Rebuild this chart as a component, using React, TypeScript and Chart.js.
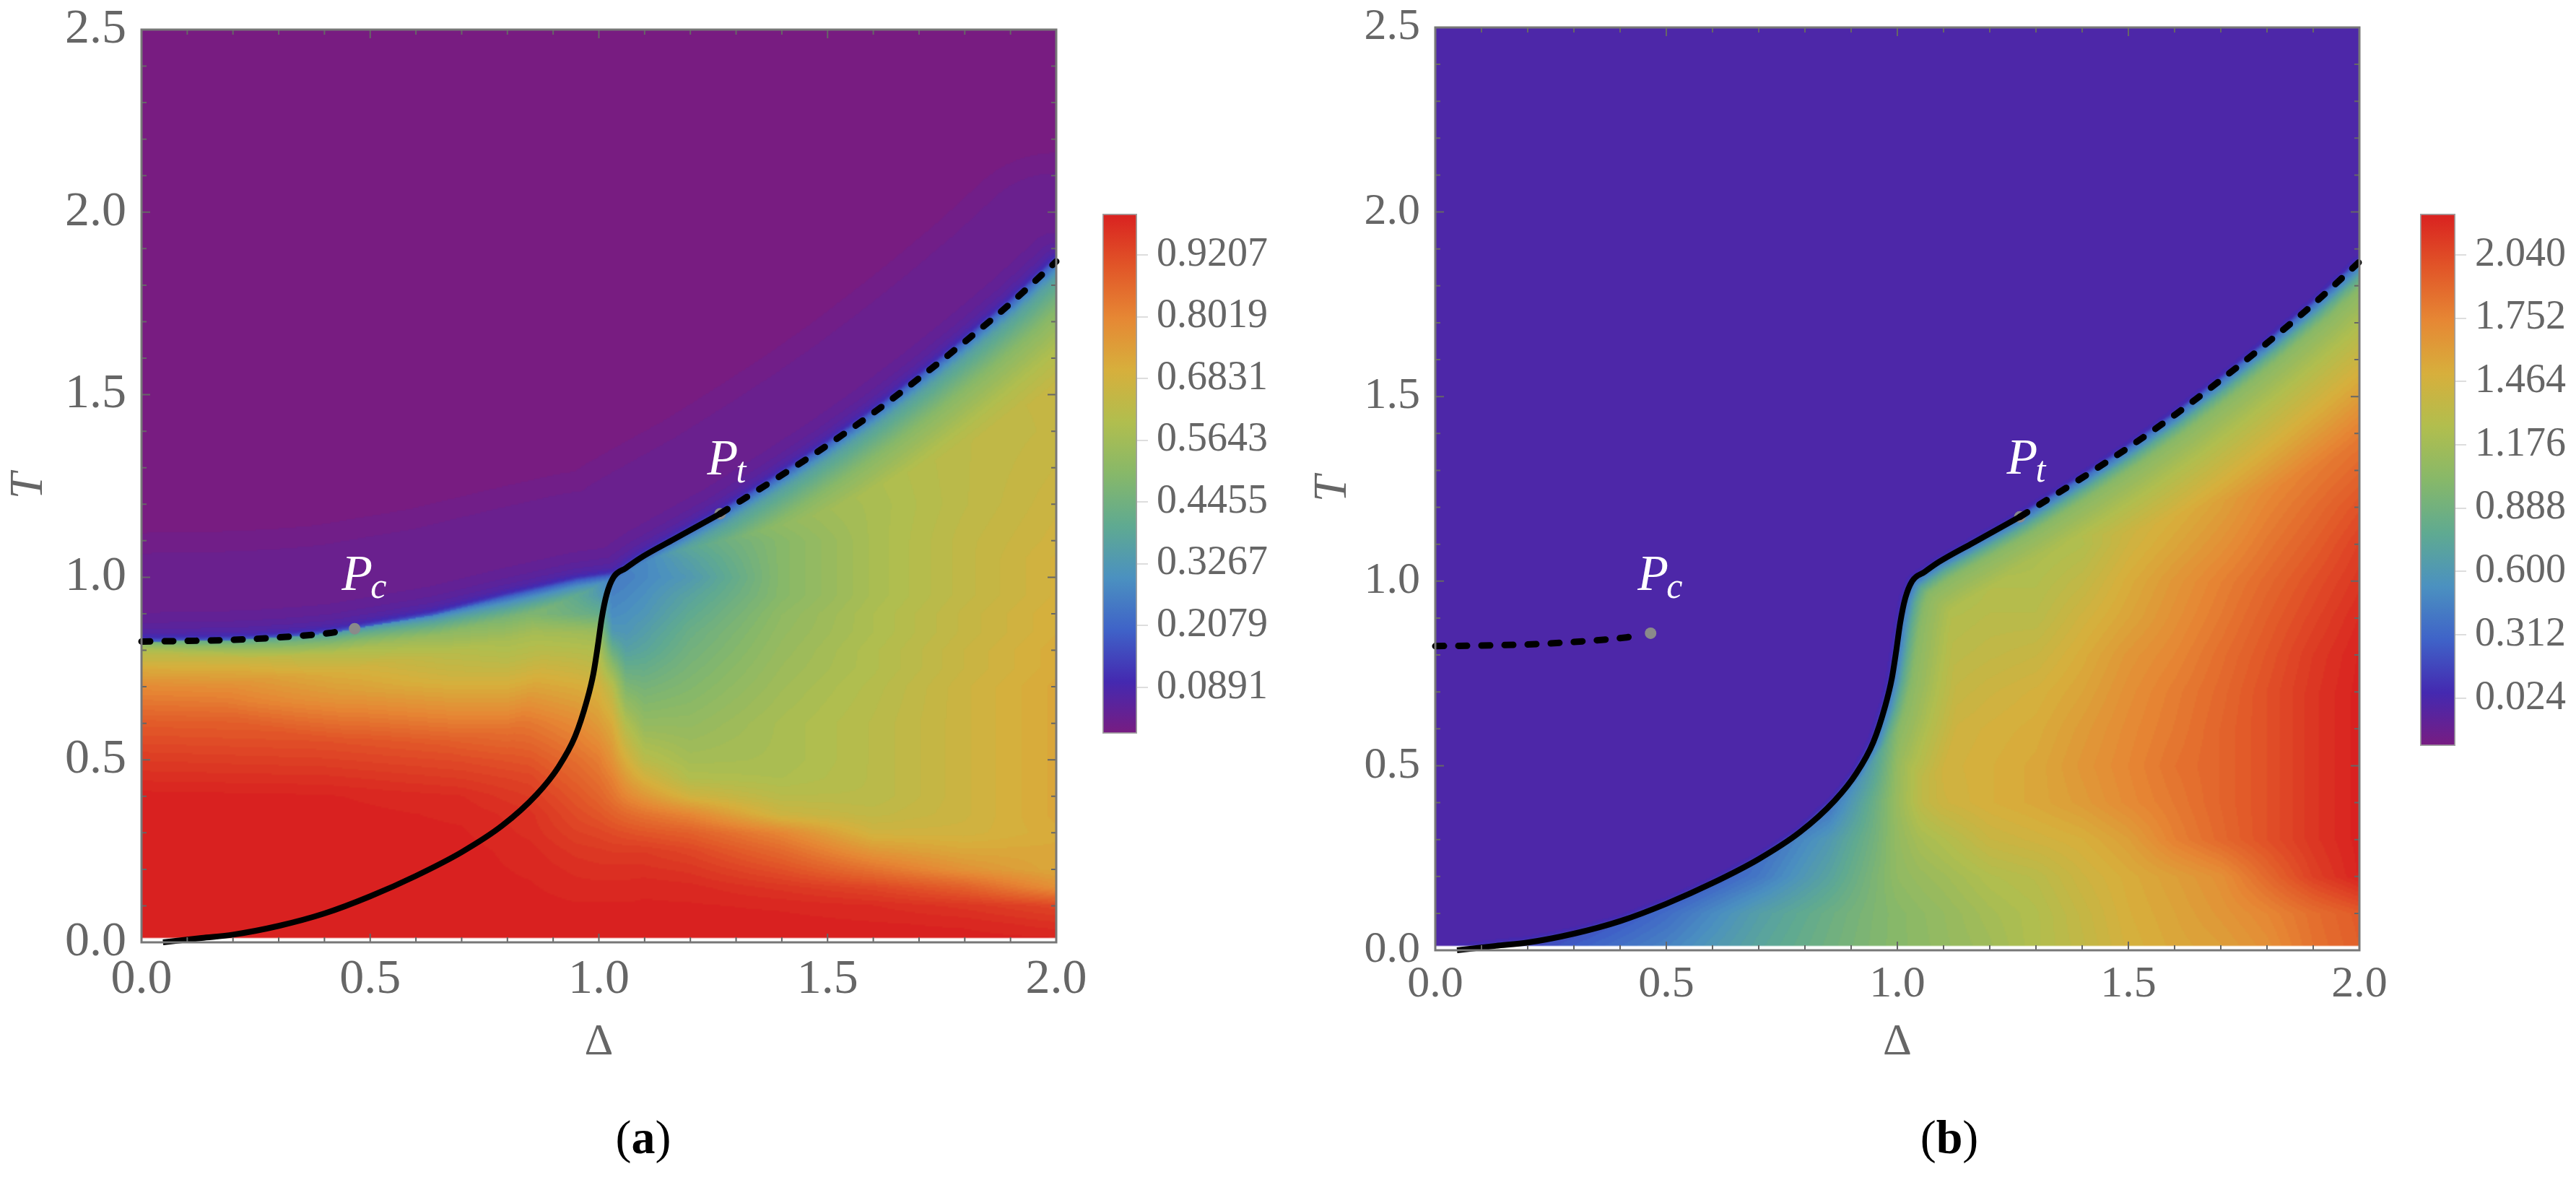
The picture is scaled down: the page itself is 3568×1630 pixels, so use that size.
import React, { useEffect, useRef } from 'react';
import Chart from 'chart.js/auto';

const SERIF = '"Liberation Serif", "Times New Roman", serif';
const GREY = '#666666';

// rainbow colour stops, bottom to top of the colour bar
const rainbowStops = ['#781c81', '#4429b0', '#3f63c8', '#4b91c0', '#5faa91', '#87b869', '#b1be4e', '#d7af3c', '#e68734', '#e15528', '#d92120'];

// curves (same in both panels)
const solidDelta = [0.047, 0.131, 0.2, 0.3, 0.4, 0.5, 0.6, 0.7, 0.789, 0.864, 0.911, 0.948, 0.974, 0.988, 0.998, 1.006, 1.017, 1.032, 1.059, 1.09, 1.164, 1.265];
const solidT = [0, 0.012, 0.021, 0.045, 0.079, 0.126, 0.182, 0.247, 0.32, 0.405, 0.479, 0.564, 0.663, 0.736, 0.815, 0.886, 0.953, 1.0, 1.025, 1.052, 1.104, 1.174];
const dashRightDelta = [1.265, 1.4, 1.5, 1.6, 1.7, 1.8, 1.9, 2.0];
const dashRightT = [1.174, 1.28, 1.362, 1.45, 1.545, 1.645, 1.75, 1.865];
const dashLeftDelta = [0, 0.12, 0.23, 0.33, 0.41, 0.44];
const dashLeftT = [0.824, 0.826, 0.83, 0.838, 0.847, 0.853];
const edgeDelta = [0.466, 0.638, 0.796, 0.953, 1.037];
const edgeT = [0.859, 0.896, 0.945, 0.99, 1.005];

const pointDelta = [0.466, 1.265];
const pointT = [0.859, 1.174];
const pointNames = ['c', 't'];

// panel (a): field below the transition line
const colDeltaA = [0, 0.4, 0.7, 0.85, 0.95, 1.0, 1.03, 1.06, 1.1, 1.2, 1.4, 1.6, 1.8, 2.0];
const rowTA = [0.01, 0.05, 0.1, 0.15, 0.2, 0.25, 0.3, 0.35, 0.4, 0.45, 0.5, 0.6, 0.7, 0.75, 0.8, 0.85, 0.9, 0.95, 1.0, 1.05, 1.1, 1.2, 1.4, 1.6, 1.8, 1.9];
const fieldA = [
  [1, 1, 1, 1, 1, 1, 1, 1, 1, 1, 1, 1, 1, 0.995],
  [1, 1, 1, 1, 1, 1, 1, 1, 1, 1, 1, 0.995, 0.99, 0.97],
  [1, 1, 1, 1, 0.995, 0.995, 0.995, 0.995, 0.995, 0.995, 0.99, 0.98, 0.96, 0.93],
  [1, 1, 1, 0.995, 0.985, 0.985, 0.985, 0.985, 0.99, 0.985, 0.96, 0.93, 0.88, 0.78],
  [1, 1, 1, 0.99, 0.975, 0.97, 0.97, 0.97, 0.97, 0.96, 0.91, 0.84, 0.77, 0.72],
  [1, 1, 1, 0.985, 0.96, 0.955, 0.95, 0.95, 0.95, 0.93, 0.86, 0.76, 0.72, 0.72],
  [1, 1, 0.995, 0.975, 0.94, 0.93, 0.92, 0.91, 0.9, 0.88, 0.8, 0.68, 0.68, 0.71],
  [1, 1, 0.99, 0.97, 0.92, 0.9, 0.88, 0.86, 0.84, 0.8, 0.67, 0.64, 0.67, 0.72],
  [1, 0.995, 0.98, 0.95, 0.9, 0.87, 0.84, 0.8, 0.76, 0.68, 0.62, 0.62, 0.67, 0.72],
  [0.975, 0.97, 0.95, 0.93, 0.875, 0.845, 0.81, 0.75, 0.69, 0.6, 0.59, 0.62, 0.67, 0.72],
  [0.95, 0.94, 0.92, 0.9, 0.85, 0.82, 0.77, 0.7, 0.62, 0.57, 0.58, 0.62, 0.67, 0.72],
  [0.89, 0.88, 0.85, 0.83, 0.79, 0.75, 0.71, 0.6, 0.53, 0.53, 0.58, 0.62, 0.67, 0.72],
  [0.79, 0.77, 0.75, 0.73, 0.71, 0.69, 0.62, 0.48, 0.46, 0.49, 0.56, 0.61, 0.67, 0.72],
  [0.71, 0.7, 0.69, 0.68, 0.66, 0.64, 0.53, 0.42, 0.42, 0.47, 0.55, 0.6, 0.66, 0.71],
  [0.6, 0.6, 0.63, 0.62, 0.61, 0.6, 0.43, 0.36, 0.38, 0.45, 0.54, 0.6, 0.66, 0.71],
  [0.6, 0.6, 0.58, 0.57, 0.56, 0.55, 0.33, 0.32, 0.35, 0.43, 0.53, 0.59, 0.65, 0.7],
  [0.6, 0.6, 0.55, 0.48, 0.44, 0.42, 0.29, 0.3, 0.32, 0.4, 0.52, 0.59, 0.65, 0.7],
  [0.6, 0.6, 0.55, 0.5, 0.4, 0.34, 0.27, 0.28, 0.3, 0.37, 0.5, 0.58, 0.64, 0.69],
  [0.6, 0.6, 0.6, 0.6, 0.5, 0.3, 0.25, 0.26, 0.28, 0.33, 0.5, 0.58, 0.64, 0.69],
  [0.6, 0.6, 0.6, 0.6, 0.5, 0.35, 0.3, 0.28, 0.28, 0.36, 0.5, 0.58, 0.64, 0.69],
  [0.6, 0.6, 0.6, 0.6, 0.5, 0.5, 0.5, 0.4, 0.34, 0.4, 0.5, 0.58, 0.64, 0.68],
  [0.6, 0.6, 0.6, 0.6, 0.6, 0.6, 0.6, 0.6, 0.55, 0.55, 0.55, 0.58, 0.63, 0.67],
  [0.6, 0.6, 0.6, 0.6, 0.6, 0.6, 0.6, 0.6, 0.6, 0.6, 0.6, 0.6, 0.63, 0.65],
  [0.6, 0.6, 0.6, 0.6, 0.6, 0.6, 0.6, 0.6, 0.6, 0.6, 0.6, 0.6, 0.65, 0.65],
  [0.6, 0.6, 0.6, 0.6, 0.6, 0.6, 0.6, 0.6, 0.6, 0.6, 0.6, 0.6, 0.65, 0.65],
  [0.6, 0.6, 0.6, 0.6, 0.6, 0.6, 0.6, 0.6, 0.6, 0.6, 0.6, 0.6, 0.65, 0.65],
];
// value against distance below the transition line, left and right of the solid curve
const profileDepthLeftA = [0, 0.006, 0.013, 0.022, 0.044, 0.07, 0.1, 0.14, 0.18, 0.22, 0.3];
const profileValueLeftA = [0.2, 0.3, 0.38, 0.47, 0.57, 0.63, 0.72, 0.84, 0.92, 0.98, 1];
const profileDepthA = [0, 0.006, 0.013, 0.03, 0.04, 0.073, 0.105, 0.14, 0.3];
const profileValueA = [0.2, 0.28, 0.36, 0.45, 0.5, 0.6, 0.66, 0.7, 1];
const liftDeltaA = [0, 0.47, 0.8, 2];
const liftValueA = [0.25, 0.12, 0, 0];
const upperDepthA = [0, 0.004, 0.008, 0.016, 0.03, 0.09, 0.13];
const upperValueA = [0.2, 0.11, 0.08, 0.055, 0.035, 0.025, 0];
const barTicksA = [0.0891, 0.2079, 0.3267, 0.4455, 0.5643, 0.6831, 0.8019, 0.9207];

// panel (b)
const colDeltaB = [0.1, 0.3, 0.5, 0.7, 0.85, 0.95, 1.0, 1.05, 1.1, 1.2, 1.3, 1.4, 1.5, 1.6, 1.7, 1.8, 1.9, 2.0];
const rowTB = [0.01, 0.1, 0.2, 0.3, 0.4, 0.5, 0.6, 0.7, 0.8, 0.9, 1.0, 1.1, 1.2, 1.4, 1.6, 1.8, 1.9];
const fieldB = [
  [0.05, 0.27, 0.46, 0.72, 0.88, 0.98, 1.02, 1.05, 1.09, 1.16, 1.26, 1.36, 1.48, 1.55, 1.6, 1.69, 1.84, 1.94],
  [0.05, 0.1, 0.34, 0.66, 0.85, 0.97, 1.02, 1.06, 1.1, 1.19, 1.26, 1.38, 1.5, 1.57, 1.65, 1.74, 1.86, 1.96],
  [0.05, 0.05, 0.1, 0.4, 0.7, 0.95, 1.07, 1.12, 1.16, 1.26, 1.31, 1.43, 1.52, 1.6, 1.69, 1.89, 2.08, 2.215],
  [0.05, 0.05, 0.05, 0.3, 0.6, 0.9, 1.09, 1.2, 1.26, 1.4, 1.45, 1.5, 1.6, 1.77, 1.89, 2.01, 2.13, 2.227],
  [0.05, 0.05, 0.05, 0.05, 0.35, 0.85, 1.12, 1.33, 1.43, 1.5, 1.55, 1.62, 1.72, 1.81, 1.91, 2.01, 2.13, 2.227],
  [0.05, 0.05, 0.05, 0.05, 0.1, 0.7, 1.1, 1.33, 1.45, 1.5, 1.55, 1.65, 1.74, 1.84, 1.91, 2.01, 2.13, 2.227],
  [0.05, 0.05, 0.05, 0.05, 0.05, 0.55, 1.0, 1.3, 1.43, 1.48, 1.52, 1.62, 1.72, 1.81, 1.91, 2.01, 2.13, 2.227],
  [0.05, 0.05, 0.05, 0.05, 0.05, 0.45, 0.95, 1.26, 1.36, 1.43, 1.48, 1.57, 1.69, 1.79, 1.89, 2.01, 2.13, 2.227],
  [0.05, 0.05, 0.05, 0.05, 0.05, 0.35, 0.85, 1.21, 1.31, 1.36, 1.4, 1.52, 1.65, 1.74, 1.86, 1.98, 2.11, 2.215],
  [0.05, 0.05, 0.05, 0.05, 0.05, 0.3, 0.75, 1.14, 1.26, 1.31, 1.31, 1.45, 1.57, 1.69, 1.81, 1.94, 2.06, 2.18],
  [0.05, 0.05, 0.05, 0.05, 0.05, 0.25, 0.55, 0.95, 1.14, 1.26, 1.26, 1.36, 1.52, 1.65, 1.77, 1.89, 2.01, 2.13],
  [0.05, 0.05, 0.05, 0.05, 0.05, 0.05, 0.3, 0.6, 0.85, 1.05, 1.2, 1.26, 1.44, 1.56, 1.68, 1.82, 1.94, 2.08],
  [0.05, 0.05, 0.05, 0.05, 0.05, 0.05, 0.05, 0.3, 0.5, 1.0, 1.2, 1.3, 1.38, 1.48, 1.6, 1.75, 1.87, 2.0],
  [0.05, 0.05, 0.05, 0.05, 0.05, 0.05, 0.05, 0.05, 1.2, 1.3, 1.3, 1.3, 1.3, 1.3, 1.5, 1.6, 1.7, 1.8],
  [0.05, 0.05, 0.05, 0.05, 0.05, 0.05, 0.05, 0.05, 2.0, 2.0, 2.0, 2.0, 2.0, 2.0, 2.0, 2.0, 2.0, 2.0],
  [0.05, 0.05, 0.05, 0.05, 0.05, 0.05, 0.05, 0.05, 2.0, 2.0, 2.0, 2.0, 2.0, 2.0, 2.0, 2.0, 2.0, 2.0],
  [0.05, 0.05, 0.05, 0.05, 0.05, 0.05, 0.05, 0.05, 2.0, 2.0, 2.0, 2.0, 2.0, 2.0, 2.0, 2.0, 2.0, 2.0],
];
const profileDepthB = [0, 0.006, 0.012, 0.021, 0.052, 0.09, 0.13, 0.2, 0.3];
const profileValueB = [0.34, 0.53, 0.775, 1.02, 1.26, 1.5, 1.74, 2.11, 2.227];
const liftDeltaB = [0, 2];
const liftValueB = [0, 0];
const upperDepthB = [0, 0.004, 0.01];
const upperValueB = [0.3, 0.05, 0];
const barTicksB = [0.024, 0.312, 0.6, 0.888, 1.176, 1.464, 1.752, 2.04];

const hexRgb = (h: string) => [1, 3, 5].map((i) => parseInt(h.slice(i, i + 2), 16));

// colours of the bands, like the contour levels of the picture
const LEVELS = 72;
const bandColours = Array.from({ length: LEVELS + 1 }, (_, i) => {
  const p = (i / LEVELS) * (rainbowStops.length - 1);
  const k = Math.min(Math.floor(p), rainbowStops.length - 2);
  const a = hexRgb(rainbowStops[k]);
  const b = hexRgb(rainbowStops[k + 1]);
  return a.map((c, j) => c + (b[j] - c) * (p - k));
});

const locate = (axis: number[], v: number) => {
  let i = 0;
  while (i < axis.length - 2 && v > axis[i + 1]) i++;
  const f = (v - axis[i]) / (axis[i + 1] - axis[i]);
  return [i, Math.max(0, Math.min(1, f))];
};
const lookup = (xs: number[], ys: number[], v: number) => {
  const [i, f] = locate(xs, v);
  return ys[i] + (ys[i + 1] - ys[i]) * f;
};

function heatPlugin(p: any) {
  let cached: HTMLCanvasElement | null = null;
  const bx = p.boundDelta.map((d: number) => d / 2);
  const by = p.boundT.map((t: number) => t / 2.5);
  const distance = (x: number, y: number) => {
    let best = 1e9;
    for (let i = 0; i < bx.length - 1; i++) {
      const ax = bx[i], ay = by[i], dx = bx[i + 1] - ax, dy = by[i + 1] - ay;
      const u = Math.max(0, Math.min(1, ((x - ax) * dx + (y - ay) * dy) / (dx * dx + dy * dy)));
      const ex = ax + u * dx - x, ey = ay + u * dy - y;
      const d = ex * ex + ey * ey;
      if (d < best) best = d;
    }
    return Math.sqrt(best);
  };
  const bulk = (d: number, t: number) => {
    const [i, fx] = locate(p.colDelta, d);
    const [j, fy] = locate(p.rowT, t);
    const g = p.field;
    const lo = g[j][i] + (g[j][i + 1] - g[j][i]) * fx;
    const hi = g[j + 1][i] + (g[j + 1][i + 1] - g[j + 1][i]) * fx;
    return lo + (hi - lo) * fy;
  };
  const build = (chart: any) => {
    const { left, top, width, height } = chart.chartArea;
    const { x, y } = chart.scales;
    const off = document.createElement('canvas');
    off.width = Math.ceil(width / 2);
    off.height = Math.ceil(height / 2);
    const octx = off.getContext('2d')!;
    const img = octx.createImageData(off.width, off.height);
    for (let r = 0; r < off.height; r++) {
      const t = y.getValueForPixel(top + (r + 0.5) * 2);
      if (t < 0.01) continue;
      for (let c = 0; c < off.width; c++) {
        const d = x.getValueForPixel(left + (c + 0.5) * 2);
        const line = lookup(p.boundDelta, p.boundT, d);
        const near = distance(d / 2, t / 2.5);
        let v;
        if (t > line) {
          v = near >= p.upperDepth[p.upperDepth.length - 1] ? p.upperValue[p.upperValue.length - 1] : lookup(p.upperDepth, p.upperValue, near);
        } else {
          const limit = d < p.splitDelta
            ? lookup(p.profileDepthLeft, p.profileValueLeft, near)
            : lookup(p.profileDepth, p.profileValue, near);
          v = Math.min(bulk(d, t), limit + lookup(p.liftDelta, p.liftValue, d));
        }
        const s = Math.max(0, Math.min(1, (v - p.min) / (p.max - p.min)));
        const col = bandColours[Math.round(s * LEVELS)];
        const k = (r * off.width + c) * 4;
        img.data[k] = col[0];
        img.data[k + 1] = col[1];
        img.data[k + 2] = col[2];
        img.data[k + 3] = 255;
      }
    }
    octx.putImageData(img, 0, 0);
    return off;
  };
  return {
    id: 'heat',
    beforeDatasetsDraw(chart: any) {
      if (!cached) cached = build(chart);
      const { left, top, width, height } = chart.chartArea;
      chart.ctx.drawImage(cached, left, top, width, height);
    },
    afterDatasetsDraw(chart: any) {
      const { ctx, chartArea: a, scales } = chart;
      ctx.save();
      ctx.strokeStyle = GREY;
      ctx.lineWidth = 2;
      // inward ticks on all four sides
      scales.x.ticks.forEach((tk: any) => {
        const px = scales.x.getPixelForValue(tk.value);
        const len = tk.label ? 12 : 7;
        ctx.beginPath();
        ctx.moveTo(px, a.bottom);
        ctx.lineTo(px, a.bottom - len);
        ctx.moveTo(px, a.top);
        ctx.lineTo(px, a.top + len);
        ctx.stroke();
      });
      scales.y.ticks.forEach((tk: any) => {
        const py = scales.y.getPixelForValue(tk.value);
        const len = tk.label ? 12 : 7;
        ctx.beginPath();
        ctx.moveTo(a.left, py);
        ctx.lineTo(a.left + len, py);
        ctx.moveTo(a.right, py);
        ctx.lineTo(a.right - len, py);
        ctx.stroke();
      });
      ctx.strokeStyle = '#777777';
      ctx.lineWidth = 3;
      ctx.strokeRect(a.left, a.top, a.right - a.left, a.bottom - a.top);
      // P_c and P_t labels
      ctx.fillStyle = '#ffffff';
      ctx.textBaseline = 'alphabetic';
      ctx.textAlign = 'left';
      pointNames.forEach((name, i) => {
        const px = scales.x.getPixelForValue(pointDelta[i]);
        const py = scales.y.getPixelForValue(pointT[i]);
        ctx.font = `italic 70px ${SERIF}`;
        ctx.fillText('P', px - 18, py - p.labelLift);
        ctx.font = `italic 50px ${SERIF}`;
        ctx.fillText(name, px + 22, py - p.labelLift + 11);
      });
      ctx.restore();
    },
  };
}

const xy = (xs: number[], ys: number[]) => xs.map((x, i) => ({ x, y: ys[i] }));

function Panel({ spec }: { spec: any }) {
  const ref = useRef<HTMLCanvasElement>(null);
  useEffect(() => {
    const lineBase = { showLine: true, borderColor: '#000000', pointRadius: 0, clip: false, cubicInterpolationMode: 'monotone' };
    const dash = { borderWidth: 9, borderDash: [12, 20], borderCapStyle: 'round' };
    const labelHalf = (v: number) => (Math.round(v * 10) % 5 === 0 ? v.toFixed(1) : '');
    const chart = new Chart(ref.current!, {
      type: 'scatter',
      data: {
        datasets: [
          { ...lineBase, label: 'solid', data: xy(solidDelta, solidT), borderWidth: 8 },
          { ...lineBase, ...dash, label: 'dashed right', data: xy(dashRightDelta, dashRightT) },
          { ...lineBase, ...dash, label: 'dashed left', data: xy(dashLeftDelta, dashLeftT) },
          { label: 'points', data: xy(pointDelta, pointT), pointRadius: 8, pointBackgroundColor: '#8a8a8a', pointBorderWidth: 0, clip: false },
        ],
      },
      options: {
        animation: false,
        responsive: false,
        devicePixelRatio: 1,
        layout: { padding: { left: 0, top: spec.plotTop, right: spec.width - spec.plotRight, bottom: 1630 - 1475 } },
        plugins: { legend: { display: false }, tooltip: { enabled: false } },
        scales: {
          x: {
            type: 'linear',
            min: 0,
            max: 2,
            border: { display: false },
            grid: { display: false },
            afterBuildTicks: (s: any) => { s.ticks = Array.from({ length: 21 }, (_, i) => ({ value: i / 10 })); },
            ticks: { autoSkip: false, maxRotation: 0, color: GREY, padding: 3, font: { family: SERIF, size: spec.fontSize }, callback: labelHalf },
            title: { display: true, text: 'Δ', color: GREY, padding: 0, font: { family: SERIF, size: 62, lineHeight: 1 } },
            afterFit: (s: any) => { s.height = 1475 - spec.plotBottom; s.paddingLeft = 0; s.paddingRight = 0; },
          },
          y: {
            type: 'linear',
            min: 0,
            max: 2.5,
            border: { display: false },
            grid: { display: false },
            afterBuildTicks: (s: any) => { s.ticks = Array.from({ length: 26 }, (_, i) => ({ value: i / 10 })); },
            ticks: { autoSkip: false, color: GREY, padding: 13, font: { family: SERIF, size: spec.fontSize }, callback: labelHalf },
            title: { display: true, text: 'T', color: GREY, padding: { top: spec.titlePad, bottom: 0 }, font: { family: SERIF, size: 66, style: 'italic', lineHeight: 1 } },
            afterFit: (s: any) => { s.width = spec.plotLeft; s.paddingTop = 0; s.paddingBottom = 0; },
          },
        },
      },
      plugins: [heatPlugin(spec)],
    } as any);
    return () => chart.destroy();
  }, []);
  return <canvas ref={ref} width={spec.width} height={1630} style={{ position: 'absolute', left: spec.left, top: 0, display: 'block' }} />;
}

function ColourBar({ spec }: { spec: any }) {
  const ref = useRef<HTMLCanvasElement>(null);
  useEffect(() => {
    const chart = new Chart(ref.current!, {
      type: 'bar',
      data: {
        labels: [''],
        datasets: [{
          data: [[spec.min, spec.max]],
          barPercentage: 1,
          categoryPercentage: 1,
          borderColor: '#a0a0a0',
          borderWidth: 2,
          borderSkipped: false,
          backgroundColor: (c: any) => {
            const a = c.chart.chartArea;
            if (!a) return rainbowStops[0];
            const g = c.chart.ctx.createLinearGradient(0, a.bottom, 0, a.top);
            rainbowStops.forEach((s, i) => g.addColorStop(i / (rainbowStops.length - 1), s));
            return g;
          },
        }],
      },
      options: {
        animation: false,
        responsive: false,
        devicePixelRatio: 1,
        layout: { padding: { left: 27, top: 296, right: 0, bottom: 1630 - spec.barBottom } },
        plugins: { legend: { display: false }, tooltip: { enabled: false } },
        scales: {
          x: { display: false },
          y: {
            position: 'right',
            min: spec.min,
            max: spec.max,
            border: { display: false },
            grid: { drawOnChartArea: false, color: '#dddddd', lineWidth: 2, tickLength: 15 },
            afterBuildTicks: (s: any) => { s.ticks = spec.ticks.map((value: number) => ({ value })); },
            ticks: { color: GREY, padding: 12, font: { family: SERIF, size: 56 }, callback: (v: number) => v.toFixed(spec.digits) },
            afterFit: (s: any) => { s.width = spec.width - 27 - spec.barWidth; s.paddingTop = 0; s.paddingBottom = 0; },
          },
        },
      },
    } as any);
    return () => chart.destroy();
  }, []);
  return <canvas ref={ref} width={spec.width} height={1630} style={{ position: 'absolute', left: spec.left, top: 0, display: 'block' }} />;
}

const boundaryA = { boundDelta: [...dashLeftDelta, ...edgeDelta, ...solidDelta.slice(18), ...dashRightDelta.slice(1)], boundT: [...dashLeftT, ...edgeT, ...solidT.slice(18), ...dashRightT.slice(1)] };
const boundaryB = { boundDelta: [...solidDelta, ...dashRightDelta.slice(1)], boundT: [...solidT, ...dashRightT.slice(1)] };

const panelA = {
  ...boundaryA, left: 0, width: 1520, plotLeft: 196, plotRight: 1463, plotTop: 41, plotBottom: 1305, titlePad: 8, fontSize: 68, labelLift: 54,
  colDelta: colDeltaA, rowT: rowTA, field: fieldA, splitDelta: 1.03,
  profileDepthLeft: profileDepthLeftA, profileValueLeft: profileValueLeftA, profileDepth: profileDepthA, profileValue: profileValueA, liftDelta: liftDeltaA, liftValue: liftValueA,
  upperDepth: upperDepthA, upperValue: upperValueA, min: 0, max: 1,
};
const panelB = {
  ...boundaryB, left: 1790, width: 1530, plotLeft: 198, plotRight: 1478, plotTop: 38, plotBottom: 1316, titlePad: 24, fontSize: 62, labelLift: 60,
  colDelta: colDeltaB, rowT: rowTB, field: fieldB, splitDelta: 0,
  profileDepth: profileDepthB, profileValue: profileValueB, liftDelta: liftDeltaB, liftValue: liftValueB,
  upperDepth: upperDepthB, upperValue: upperValueB, min: -0.193, max: 2.227,
};
const barA = { left: 1500, width: 284, barWidth: 48, barBottom: 1016, min: 0, max: 1, ticks: barTicksA, digits: 4 };
const barB = { left: 3325, width: 243, barWidth: 49, barBottom: 1033, min: -0.193, max: 2.227, ticks: barTicksB, digits: 3 };

const captionStyle = (x: number): React.CSSProperties => ({
  position: 'absolute', left: x - 100, width: 200, top: 1536, textAlign: 'center', fontFamily: SERIF, fontSize: 66, lineHeight: '78px', color: '#000',
});

export default function App() {
  return (
    <div style={{ position: 'absolute', left: 0, top: 0, width: 3568, height: 1630, background: '#fff', overflow: 'hidden' }}>
      <Panel spec={panelA} />
      <ColourBar spec={barA} />
      <Panel spec={panelB} />
      <ColourBar spec={barB} />
      <div style={captionStyle(891)}>(<b>a</b>)</div>
      <div style={captionStyle(2700)}>(<b>b</b>)</div>
    </div>
  );
}
